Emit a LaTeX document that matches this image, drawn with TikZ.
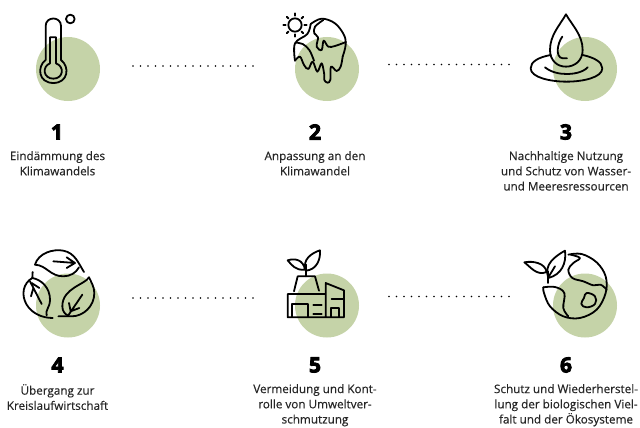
\documentclass[tikz,border=0pt]{standalone}
\usepackage{fontspec}
\setmainfont{Open Sans}
\newfontfamily\numfont[FakeBold=4]{Open Sans Bold}
\newfontfamily\capfont[FakeBold=0.3]{Open Sans}
\definecolor{sage}{HTML}{C5D3A8}
\definecolor{txt}{HTML}{262626}
\tikzset{
 blob/.style={circle,fill=sage,draw=none,minimum size=64pt,inner sep=0pt},
 num/.style={font=\numfont\fontsize{21}{21}\selectfont,text=black,inner sep=0pt,anchor=center},
 captext/.style={font=\capfont\fontsize{11.7}{15.2}\selectfont,text=txt,align=center,inner sep=0pt,anchor=north},
 dots/.style={line width=1.8pt,line cap=round,dash pattern=on 0pt off 7.5pt,black},
 ic/.style={line width=1.8pt,line join=round,line cap=round,black},
 sm/.style={smooth,tension=0.6}
}
\begin{document}
\begin{tikzpicture}[x=1pt,y=-1pt]
\useasboundingbox (0,0) rectangle (640,428);
\fill[white] (0,0) rectangle (640,428);
% green circles
\node[blob] (b1) at (68,69) {};
\node[blob] (b2) at (327,69) {};
\node[blob] (b3) at (585,69) {};
\node[blob] (b4) at (68,305.5) {};
\node[blob] (b5) at (327,305.5) {};
\node[blob] (b6) at (585,305.5) {};
% dotted links
\coordinate (d1a) at (133,66); \coordinate (d1b) at (254,66);
\coordinate (d2a) at (389,64.5); \coordinate (d2b) at (510,64.5);
\coordinate (d3a) at (133,298); \coordinate (d3b) at (254,298);
\coordinate (d4a) at (389,296.5); \coordinate (d4b) at (510,296.5);
\draw[dots] (d1a) -- (d1b);
\draw[dots] (d2a) -- (d2b);
\draw[dots] (d3a) -- (d3b);
\draw[dots] (d4a) -- (d4b);
% numbers
\node[num] (n1) at (57,132) {1};
\node[num] (n2) at (315,132) {2};
\node[num] (n3) at (566,132) {3};
\node[num] (n4) at (57.5,365) {4};
\node[num] (n5) at (315,365) {5};
\node[num] (n6) at (566,365) {6};
% captions
\node[captext] (t1) at (57.5,151) {Eindämmung des\\Klimawandels};
\node[captext] (t2) at (315,151) {Anpassung an den\\Klimawandel};
\node[captext] (t3) at (566,151) {Nachhaltige Nutzung\\und Schutz von Wasser-\\und Meeresressourcen};
\node[captext] (t4) at (57.5,384) {Übergang zur\\Kreislaufwirtschaft};
\node[captext] (t5) at (315,384) {Vermeidung und Kont-\\rolle von Umweltver-\\schmutzung};
\node[captext] (t6) at (566,384) {Schutz und Wiederherstel-\\lung der biologischen Viel-\\falt und der Ökosysteme};
% icon 1 thermometer
\begin{scope}[ic,x=0.3333pt,y=-0.3333pt]
\draw (137,180) -- (137,78) .. controls (137,48) and (183,48) .. (183,78) -- (183,180)
  .. controls (210,200) and (205,249) .. (160,249) .. controls (115,249) and (110,200) .. (137,180) -- cycle;
\draw (150,190) -- (150,112) -- (168,112) -- (168,190) .. controls (195,200) and (190,236) .. (160,236)
  .. controls (130,236) and (125,200) .. (150,190) -- cycle;
\draw (211,57) circle[radius=13];
\end{scope}
% icon 2 melting globe, crop origin 220,0
\begin{scope}[ic,x=0.3333pt,y=-0.3333pt,shift={(220pt,0pt)}]
\draw (225,75) circle[radius=20];
\foreach \a in {0,45,...,315} \draw (225,75) ++(\a:28) -- ++(\a:7);
\draw plot[sm] coordinates {(272,72) (305,56) (345,70) (372,105) (377,135) (368,170)};
\draw plot[sm] coordinates {(225,182) (225,130) (262,102) (272,72)};
\draw plot[sm] coordinates {(225,182) (240,170) (252,195) (265,207) (278,185) (292,215) (305,190) (313,225) (313,240) (322,248) (331,240) (333,200) (350,213) (362,200) (368,170)};
\draw plot[sm] coordinates {(228,128) (248,132) (268,150) (282,182)};
\draw plot[sm] coordinates {(310,60) (285,80) (283,100) (294,112) (290,140) (305,150) (311,122) (325,140) (345,138) (378,126)};
\end{scope}
% icon 3 drop, crop origin 440,0
\begin{scope}[ic,x=0.3333pt,y=-0.3333pt,shift={(440pt,0pt)}]
\draw (378,43) .. controls (360,75) and (330,105) .. (330,150) .. controls (330,182) and (352,200) .. (378,200)
  .. controls (404,200) and (428,182) .. (428,150) .. controls (428,105) and (396,75) .. (378,43) -- cycle;
\draw (367,110) .. controls (352,130) and (345,172) .. (368,175) -- (381,175);
\draw (332,165) .. controls (295,172) and (272,185) .. (272,205) .. controls (272,232) and (330,245) .. (380,245)
  .. controls (430,245) and (487,232) .. (487,205) .. controls (487,185) and (460,172) .. (428,165);
\draw (315,202) .. controls (335,218) and (360,222) .. (380,222) .. controls (400,222) and (428,218) .. (443,202);
\end{scope}
% icon 4 leaves, crop origin 0,228
\begin{scope}[ic,x=0.3333pt,y=-0.3333pt,shift={(0pt,-228pt)}]
\draw (105,110) .. controls (115,75) and (160,62) .. (190,68) .. controls (225,75) and (235,105) .. (252,132);
\draw (105,110) .. controls (140,112) and (150,145) .. (190,145) .. controls (210,145) and (228,135) .. (237,118);
\draw (160,100) -- (225,105) (200,88) -- (225,105) -- (200,120);
\draw (98,132) -- (97,150) .. controls (70,165) and (62,200) .. (80,230) .. controls (95,255) and (125,270) .. (158,270);
\draw (97,150) .. controls (125,155) and (150,180) .. (150,215) .. controls (150,240) and (135,245) .. (140,262);
\draw (90,160) -- (125,228) (93,205) -- (100,180) (95,165) -- (118,180);
\draw (175,265) -- (215,265) .. controls (250,265) and (283,235) .. (283,195) .. controls (283,175) and (272,160) .. (267,148);
\draw (267,148) .. controls (255,170) and (187,180) .. (187,235) .. controls (187,250) and (195,258) .. (203,262);
\draw (247,200) -- (205,262) (207,225) -- (212,250) -- (238,240);
\end{scope}
% icon 5 factory, crop origin 220,228
\begin{scope}[ic,x=0.3333pt,y=-0.3333pt,shift={(220pt,-228pt)}]
\draw (317,198) -- (203,198) -- (203,268) -- (372,268) -- (372,187) -- (317,165) -- (317,268);
\draw (335,213) -- (372,213);
\draw (217,266) -- (217,228) -- (265,228) -- (265,266);
\draw (332,266) -- (332,240) -- (357,240) -- (357,266);
\draw (280,232) -- (305,232) (280,257) -- (305,257);
\draw (222,190) -- (233,145) -- (285,145) -- (297,188);
\draw (258,145) -- (258,110);
\draw (258,128) .. controls (245,95) and (275,75) .. (300,67) .. controls (302,95) and (290,125) .. (258,128);
\draw (255,125) .. controls (225,128) and (215,110) .. (203,97) .. controls (225,90) and (250,95) .. (255,125);
\end{scope}
% icon 6 globe, crop origin 440,228
\begin{scope}[ic,x=0.3333pt,y=-0.3333pt,shift={(440pt,-228pt)}]
\draw plot[sm] coordinates {(385,80) (425,78) (470,103) (497,145) (497,195) (470,245) (420,270) (370,265) (330,235) (312,195) (310,178)};
\draw plot[sm] coordinates {(392,80) (420,90) (400,105) (385,125) (397,150) (430,160) (460,172) (482,170) (500,185)};
\draw plot[sm] coordinates {(310,178) (345,177) (373,195) (370,240) (385,265)};
\draw plot[smooth cycle,tension=0.7] coordinates {(440,195) (465,205) (465,228) (440,238) (424,228) (432,210)};
\draw (325,165) -- (325,130);
\draw (325,150) .. controls (310,110) and (345,85) .. (375,68) .. controls (380,105) and (365,140) .. (325,150);
\draw (345,115) -- (325,148);
\draw (320,132) .. controls (290,145) and (270,115) .. (253,103) .. controls (280,98) and (315,105) .. (320,132);
\end{scope}
\end{tikzpicture}
\end{document}
